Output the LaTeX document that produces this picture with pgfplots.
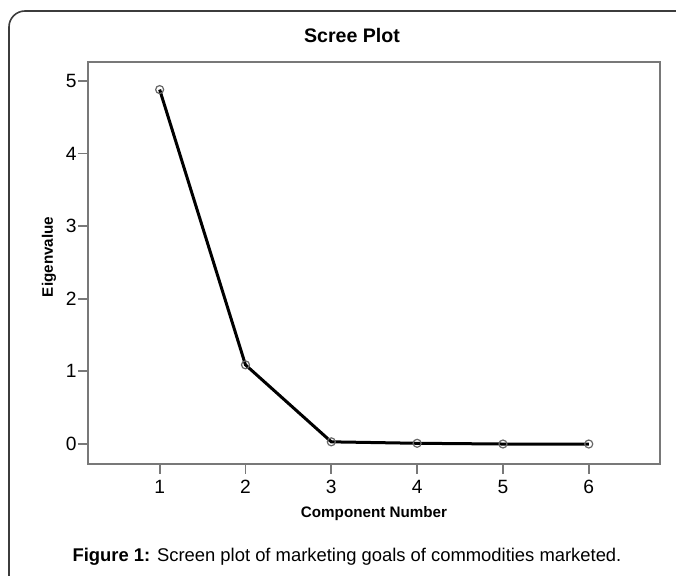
\documentclass[border=0pt]{standalone}
\usepackage{pgfplots}
\pgfplotsset{compat=1.18}
\usepackage{fontspec}
\setmainfont{Liberation Sans}
\definecolor{axgray}{RGB}{120,120,120}
\definecolor{framegray}{RGB}{60,60,60}
\begin{document}
\begin{tikzpicture}
\useasboundingbox (0,0) rectangle (338pt,288pt);
\draw[line width=0.8pt, framegray, rounded corners=8pt] (4.5pt,-20pt) -- (4.5pt,282.5pt) -- (360pt,282.5pt);
\begin{axis}[
  at={(44pt,56pt)}, anchor=south west,
  scale only axis, width=286pt, height=201pt,
  xmin=0.165, xmax=6.83, ymin=-0.275, ymax=5.26,
  xtick={1,2,3,4,5,6}, ytick={0,1,2,3,4,5},
  xtick pos=bottom, ytick pos=left,
  tick align=outside, major tick length=5pt,
  tick style={axgray, line width=0.9pt},
  axis line style={axgray, line width=1pt},
  /pgf/number format/assume math mode=true,
  tick label style={font=\fontsize{9.6}{11}\selectfont},
  yticklabel style={inner sep=0.5pt},
  xticklabel style={inner sep=1pt, yshift=-2pt},
  title={\textbf{Scree Plot}},
  title style={at={(axis description cs:0.4615,1)}, anchor=center, yshift=7pt, font=\fontsize{9.8}{11}\selectfont},
  xlabel={\textbf{Component Number}},
  xlabel style={at={(axis description cs:0.5,0)}, anchor=center, yshift=-25pt, font=\fontsize{7.6}{9}\selectfont},
  ylabel={\textbf{Eigenvalue}},
  ylabel style={at={(axis description cs:-0.0682,0.515)}, anchor=center, font=\fontsize{7.6}{9}\selectfont},
]
\addplot[black, line width=1.5pt, mark=o, mark size=2pt,
  mark options={draw=black!60, line width=0.6pt, fill=none}] coordinates {
  (1,4.88) (2,1.09) (3,0.03) (4,0.01) (5,0.0) (6,0.0)
};
\end{axis}
\node[font=\fontsize{9.2}{11}\selectfont] at (173.5pt,9.5pt) {\textbf{Figure 1:} Screen plot of marketing goals of commodities marketed.};
\end{tikzpicture}
\end{document}
